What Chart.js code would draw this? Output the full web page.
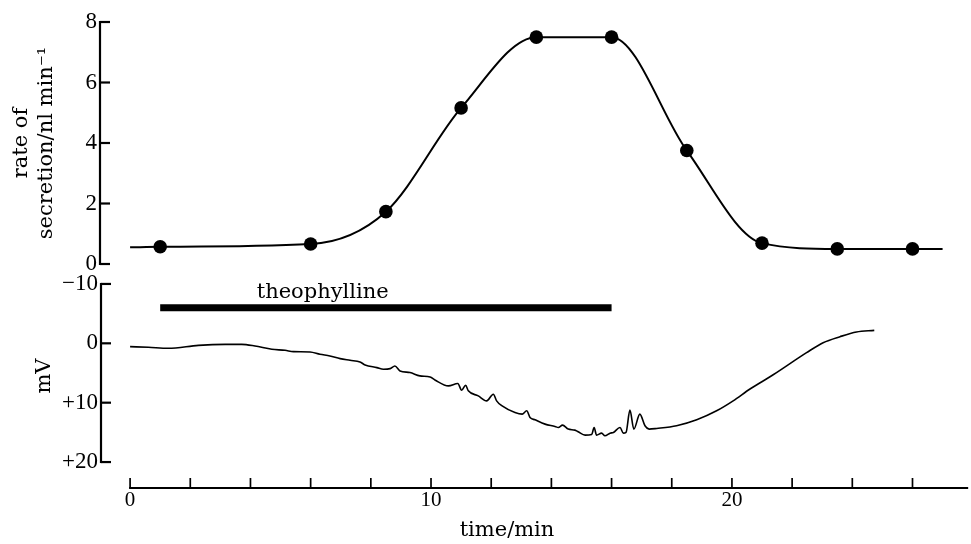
<!DOCTYPE html>
<html><head><meta charset="utf-8">
<script src="https://cdn.jsdelivr.net/npm/chart.js@4.4.1/dist/chart.umd.min.js"></script>
<style>html,body{margin:0;padding:0;background:#fff;} #wrap{width:971px;height:544px;position:relative;}</style>
</head><body><div id="wrap"><canvas id="c" width="971" height="544"></canvas></div>
<script>
// ---- data ----
const secretionTimes = [1, 6, 8.5, 11, 13.5, 16, 18.5, 21, 23.5, 26];
const secretionRates = [0.57, 0.66, 1.73, 5.16, 7.5, 7.5, 3.75, 0.69, 0.5, 0.5];

const fitTimes = [0, 1, 6, 8.5, 11, 13.5, 16, 18.5, 21, 23.5, 26, 27];
const fitRates = [0.55, 0.57, 0.66, 1.73, 5.16, 7.5, 7.5, 3.75, 0.69, 0.5, 0.5, 0.5];

const traceTimes = [0, 0.61, 1.27, 2.27, 3.16, 3.71, 4.15, 4.71, 5.15, 5.43, 5.98, 6.31, 6.64, 6.98, 7.31, 7.64, 7.81, 8.2, 8.42, 8.64, 8.8, 8.97, 9.3, 9.63, 9.97, 10.13, 10.58, 10.89, 11.02, 11.15, 11.24, 11.57, 11.85, 12.07, 12.18, 12.35, 12.79, 13.03, 13.18, 13.29, 13.46, 13.79, 14.12, 14.23, 14.37, 14.56, 14.78, 14.89, 15.12, 15.34, 15.42, 15.5, 15.67, 15.78, 15.95, 16.06, 16.28, 16.39, 16.48, 16.61, 16.74, 16.94, 17.11, 17.25, 17.5, 18.16, 18.83, 19.49, 20.04, 20.6, 21.37, 22.48, 23.03, 23.59, 24.14, 24.73];
const traceMV = [0.56, 0.67, 0.84, 0.34, 0.17, 0.17, 0.45, 1.0, 1.18, 1.4, 1.46, 1.85, 2.13, 2.58, 2.86, 3.14, 3.64, 4.09, 4.37, 4.26, 3.81, 4.65, 4.93, 5.49, 5.66, 6.17, 7.17, 6.77, 7.9, 7.06, 8.0, 8.85, 9.7, 8.57, 9.7, 10.5, 11.65, 11.93, 11.37, 12.49, 12.89, 13.61, 14.0, 14.17, 13.78, 14.45, 14.62, 14.9, 15.46, 15.35, 14.17, 15.46, 15.13, 15.58, 15.13, 15.01, 14.17, 15.13, 15.0, 11.26, 14.45, 11.93, 13.89, 14.45, 14.34, 13.89, 12.88, 11.37, 9.69, 7.7, 5.3, 1.57, -0.11, -1.12, -1.9, -2.18];

const theophyllineTimes = [1, 16];
const theophyllineLevel = [-6, -6];

const rateTicks = [0, 2, 4, 6, 8];
const mvTicks = [-10, 0, 10, 20];
const timeLabelTicks = [0, 10, 20];
const timeMinorTicks = [0, 2, 4, 6, 8, 10, 12, 14, 16, 18, 20, 22, 24, 26];

// ---- build library structures ----
const pts = (xs, ys) => xs.map((x, i) => ({x: x, y: ys[i]}));
const SERIF = "'DejaVu Serif', 'Liberation Serif', serif";
const NUMF = "'Liberation Serif', 'DejaVu Serif', serif";
const INK = '#000';

const spinePlugin = {
  id: 'spines',
  afterDraw(chart, args, opts) {
    const {ctx, chartArea, scales} = chart;
    const x = scales.x, y1 = scales.y1, y2 = scales.y2;
    const L = chartArea.left;
    const seg = (a, b, c, d) => { ctx.beginPath(); ctx.moveTo(a, b); ctx.lineTo(c, d); ctx.stroke(); };
    ctx.save();
    ctx.strokeStyle = INK;
    ctx.lineCap = 'butt';
    // top y axis
    ctx.lineWidth = 2.2;
    seg(L, y1.getPixelForValue(rateTicks[rateTicks.length - 1]) - 1, L, y1.getPixelForValue(rateTicks[0]) + 1);
    rateTicks.forEach(v => { const p = y1.getPixelForValue(v); seg(L, p, L + opts.tickLen, p); });
    // bottom y axis
    seg(L + 1, y2.getPixelForValue(mvTicks[0]) - 1, L + 1, y2.getPixelForValue(mvTicks[mvTicks.length - 1]) + 1);
    mvTicks.forEach(v => { const p = y2.getPixelForValue(v); seg(L + 1, p, L + 1 + opts.tickLen, p); });
    // x axis
    const yb = chartArea.bottom;
    seg(x.getPixelForValue(timeMinorTicks[0]) - 1, yb, x.getPixelForValue(opts.axisEndTime), yb);
    ctx.lineWidth = 1.7;
    timeMinorTicks.forEach(v => { const p = x.getPixelForValue(v); seg(p, yb, p, yb - opts.tickLen); });
    // theophylline label
    ctx.fillStyle = INK;
    ctx.font = '21px ' + SERIF;
    ctx.textAlign = 'center';
    ctx.textBaseline = 'alphabetic';
    ctx.fillText(opts.label.text, x.getPixelForValue(opts.label.t), y2.getPixelForValue(opts.label.mv));
    ctx.restore();
  }
};

new Chart(document.getElementById('c'), {
  type: 'line',
  data: {
    datasets: [
      { label: 'fitted secretion curve', data: pts(fitTimes, fitRates), yAxisID: 'y1',
        borderColor: INK, borderWidth: 2, pointRadius: 0, cubicInterpolationMode: 'monotone', clip: false },
      { label: 'rate of secretion', data: pts(secretionTimes, secretionRates), yAxisID: 'y1', showLine: false,
        pointRadius: 6.8, pointBackgroundColor: INK, pointBorderColor: INK, pointBorderWidth: 0, clip: false },
      { label: 'theophylline', data: pts(theophyllineTimes, theophyllineLevel), yAxisID: 'y2',
        borderColor: INK, borderWidth: 7, borderCapStyle: 'butt', pointRadius: 0, clip: false },
      { label: 'membrane potential', data: pts(traceTimes, traceMV), yAxisID: 'y2',
        borderColor: INK, borderWidth: 1.6, pointRadius: 0, cubicInterpolationMode: 'monotone', clip: false }
    ]
  },
  options: {
    responsive: false,
    animation: false,
    devicePixelRatio: 1,
    layout: { padding: { left: 0, right: 57, top: 22, bottom: 0 } },
    plugins: {
      legend: { display: false },
      tooltip: { enabled: false },
      spines: { tickLen: 10, axisEndTime: 27.85, label: { text: 'theophylline', t: 6.4, mv: -7.56 } }
    },
    scales: {
      x: {
        type: 'linear', position: 'bottom', min: -1, max: 26.05,
        afterBuildTicks: s => { s.ticks = timeLabelTicks.map(v => ({value: v})); },
        afterFit: s => { s.height = 56; },
        grid: { display: false, drawTicks: false },
        border: { display: false },
        ticks: { padding: 0, color: INK, maxRotation: 0, font: { family: NUMF, size: 21 } },
        title: { display: true, text: 'time/min', color: INK, font: { family: SERIF, size: 21, lineHeight: 1.2 }, padding: { top: 0, bottom: 1 } }
      },
      y1: {
        type: 'linear', position: 'left', stack: 'v', stackWeight: 242, weight: 2, min: 0, max: 8,
        afterBuildTicks: s => { s.ticks = rateTicks.map(v => ({value: v})); },
        afterFit: s => { s.width = 100; },
        grid: { display: false, drawTicks: false },
        border: { display: false },
        ticks: { padding: 3, color: INK, font: { family: NUMF, size: 23 } },
        title: { display: true, text: ['rate of', 'secretion/nl min\u207B\u00B9'], color: INK,
                 font: { family: SERIF, size: 21, lineHeight: 1.2 }, padding: { top: 9, bottom: 0 } }
      },
      y2: {
        type: 'linear', position: 'left', stack: 'v', stackWeight: 224, weight: 1, reverse: true, min: -13.36, max: 24.37,
        afterBuildTicks: s => { s.ticks = mvTicks.map(v => ({value: v})); },
        afterFit: s => { s.width = 100; },
        grid: { display: false, drawTicks: false },
        border: { display: false },
        ticks: { padding: 2, color: INK, font: { family: NUMF, size: 23 },
                 callback: v => v > 0 ? '+' + v : (v < 0 ? '\u2212' + Math.abs(v) : '0') },
        title: { display: true, text: 'mV', color: INK, font: { family: SERIF, size: 21, lineHeight: 1.2 }, padding: { top: 32, bottom: 0 } }
      }
    }
  },
  plugins: [spinePlugin]
});
</script>
</body></html>
